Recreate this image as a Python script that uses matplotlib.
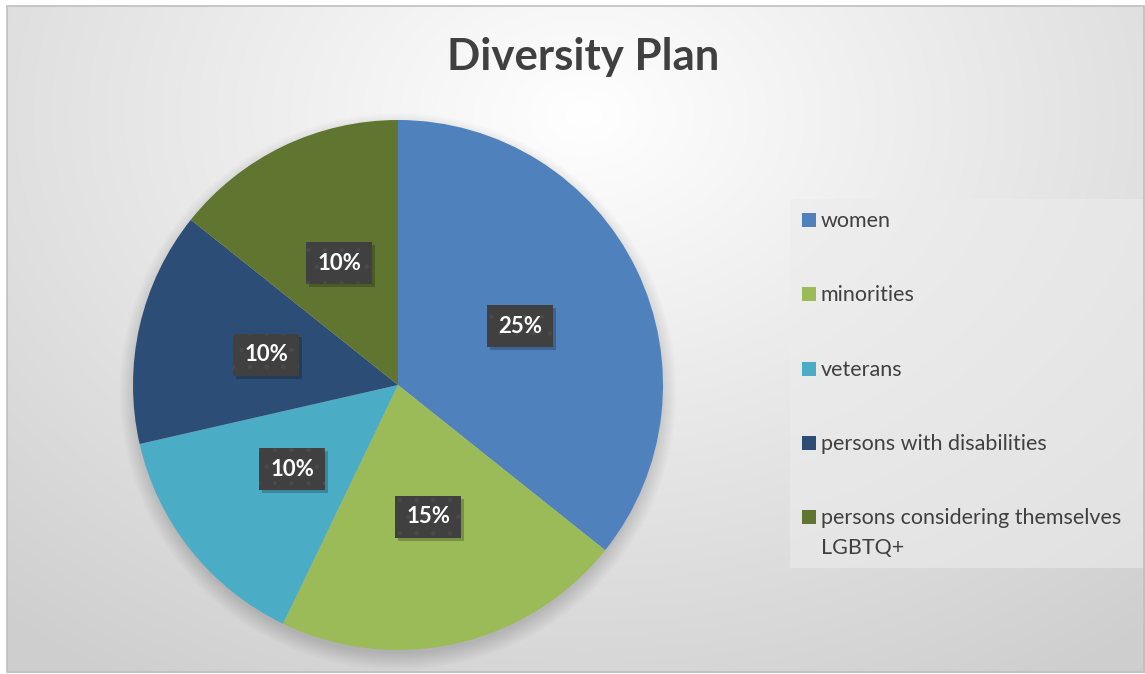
import numpy as np
import matplotlib
matplotlib.use("Agg")
from matplotlib import pyplot as plt
from matplotlib.patches import Circle, Rectangle

plt.rcParams['font.family'] = ['Lato', 'DejaVu Sans']
plt.rcParams['hatch.linewidth'] = 0.8

categories = ['women', 'minorities', 'veterans', 'persons with disabilities',
              'persons considering themselves\nLGBTQ+']
values = [25, 15, 10, 10, 10]
colors = ['#4F81BD', '#9BBB59', '#4BACC6', '#2C4D75', '#5F7530']

W, H = 1145, 674
fig = plt.figure(figsize=(W / 100, H / 100), dpi=100)

# background: soft radial gradient inside a thin grey frame
bg = fig.add_axes([0, 0, 1, 1])
bg.set_xlim(0, W)
bg.set_ylim(H, 0)
bg.axis('off')
yy, xx = np.mgrid[0:H, 0:W]
d = np.sqrt(((xx - 580) / 800.0) ** 2 + ((yy - 110) / 600.0) ** 2)
g = np.clip(1.0 - 0.17 * d, 0.81, 1.0)
img = np.dstack([g, g, g])
bg.imshow(img, extent=(7, W, H - 1, 6), zorder=0, interpolation='bilinear')
bg.add_patch(Rectangle((7, 6), W - 8, H - 8, fill=False, ec='#bfbfbf', lw=1.2, zorder=1))

bg.text(583, 57, 'Diversity Plan', ha='center', va='center', fontsize=31.5,
        fontweight='bold', color='#404040')

# legend, drawn by hand so the swatch sits on the first line
bg.add_patch(Rectangle((790, 199), 353, 369, fc='#ececec', ec='none', alpha=0.6, zorder=1))
for i, (lab, c) in enumerate(zip(categories, colors)):
    ly = 220 + 74.3 * i
    bg.add_patch(Rectangle((802, ly - 7), 14, 14, fc=c, ec='none', zorder=2))
    bg.text(821, ly - 9, lab, ha='left', va='top', fontsize=15.5,
            color='#404040', linespacing=1.6, zorder=2)

# pie axes, centred at (398, 385) px with radius 265 px
cx, cy, r = 398, 385, 265
lim = 1.12
ax = fig.add_axes([(cx - r * lim) / W, (H - cy - r * lim) / H,
                   2 * lim * r / W, 2 * lim * r / H])

wedges, _ = ax.pie(values, colors=colors, startangle=90, counterclock=False,
                   radius=1.0, wedgeprops=dict(linewidth=0))
ax.set_xlim(-lim, lim)
ax.set_ylim(-lim, lim)
ax.axis('off')
for w in wedges:
    w.set_zorder(2)

# soft shadow under the pie
for i in range(12):
    ax.add_patch(Circle((0, -0.025), 0.99 + 0.0055 * i, fc='black', ec='none',
                        alpha=0.012, zorder=1))

bw, bh = 66 / r, 42 / r  # label box size in data units
total = float(sum(values))
ang = 90.0
for v in values:
    span = 360.0 * v / total
    mid = np.deg2rad(ang - span / 2)
    ang -= span
    x, y = 0.51 * np.cos(mid), 0.51 * np.sin(mid)
    ax.add_patch(Rectangle((x - bw / 2 + 3 / r, y - bh / 2 - 3 / r), bw, bh,
                           fc='black', ec='none', alpha=0.22, zorder=3))
    ax.add_patch(Rectangle((x - bw / 2, y - bh / 2), bw, bh, fc='#404040',
                           ec='#4a4a4a', hatch='.', lw=0, zorder=3))
    ax.text(x, y, '%d%%' % v, ha='center', va='center', fontsize=16,
            fontweight='bold', color='white', zorder=4)

fig.savefig('out.png', dpi=100)
